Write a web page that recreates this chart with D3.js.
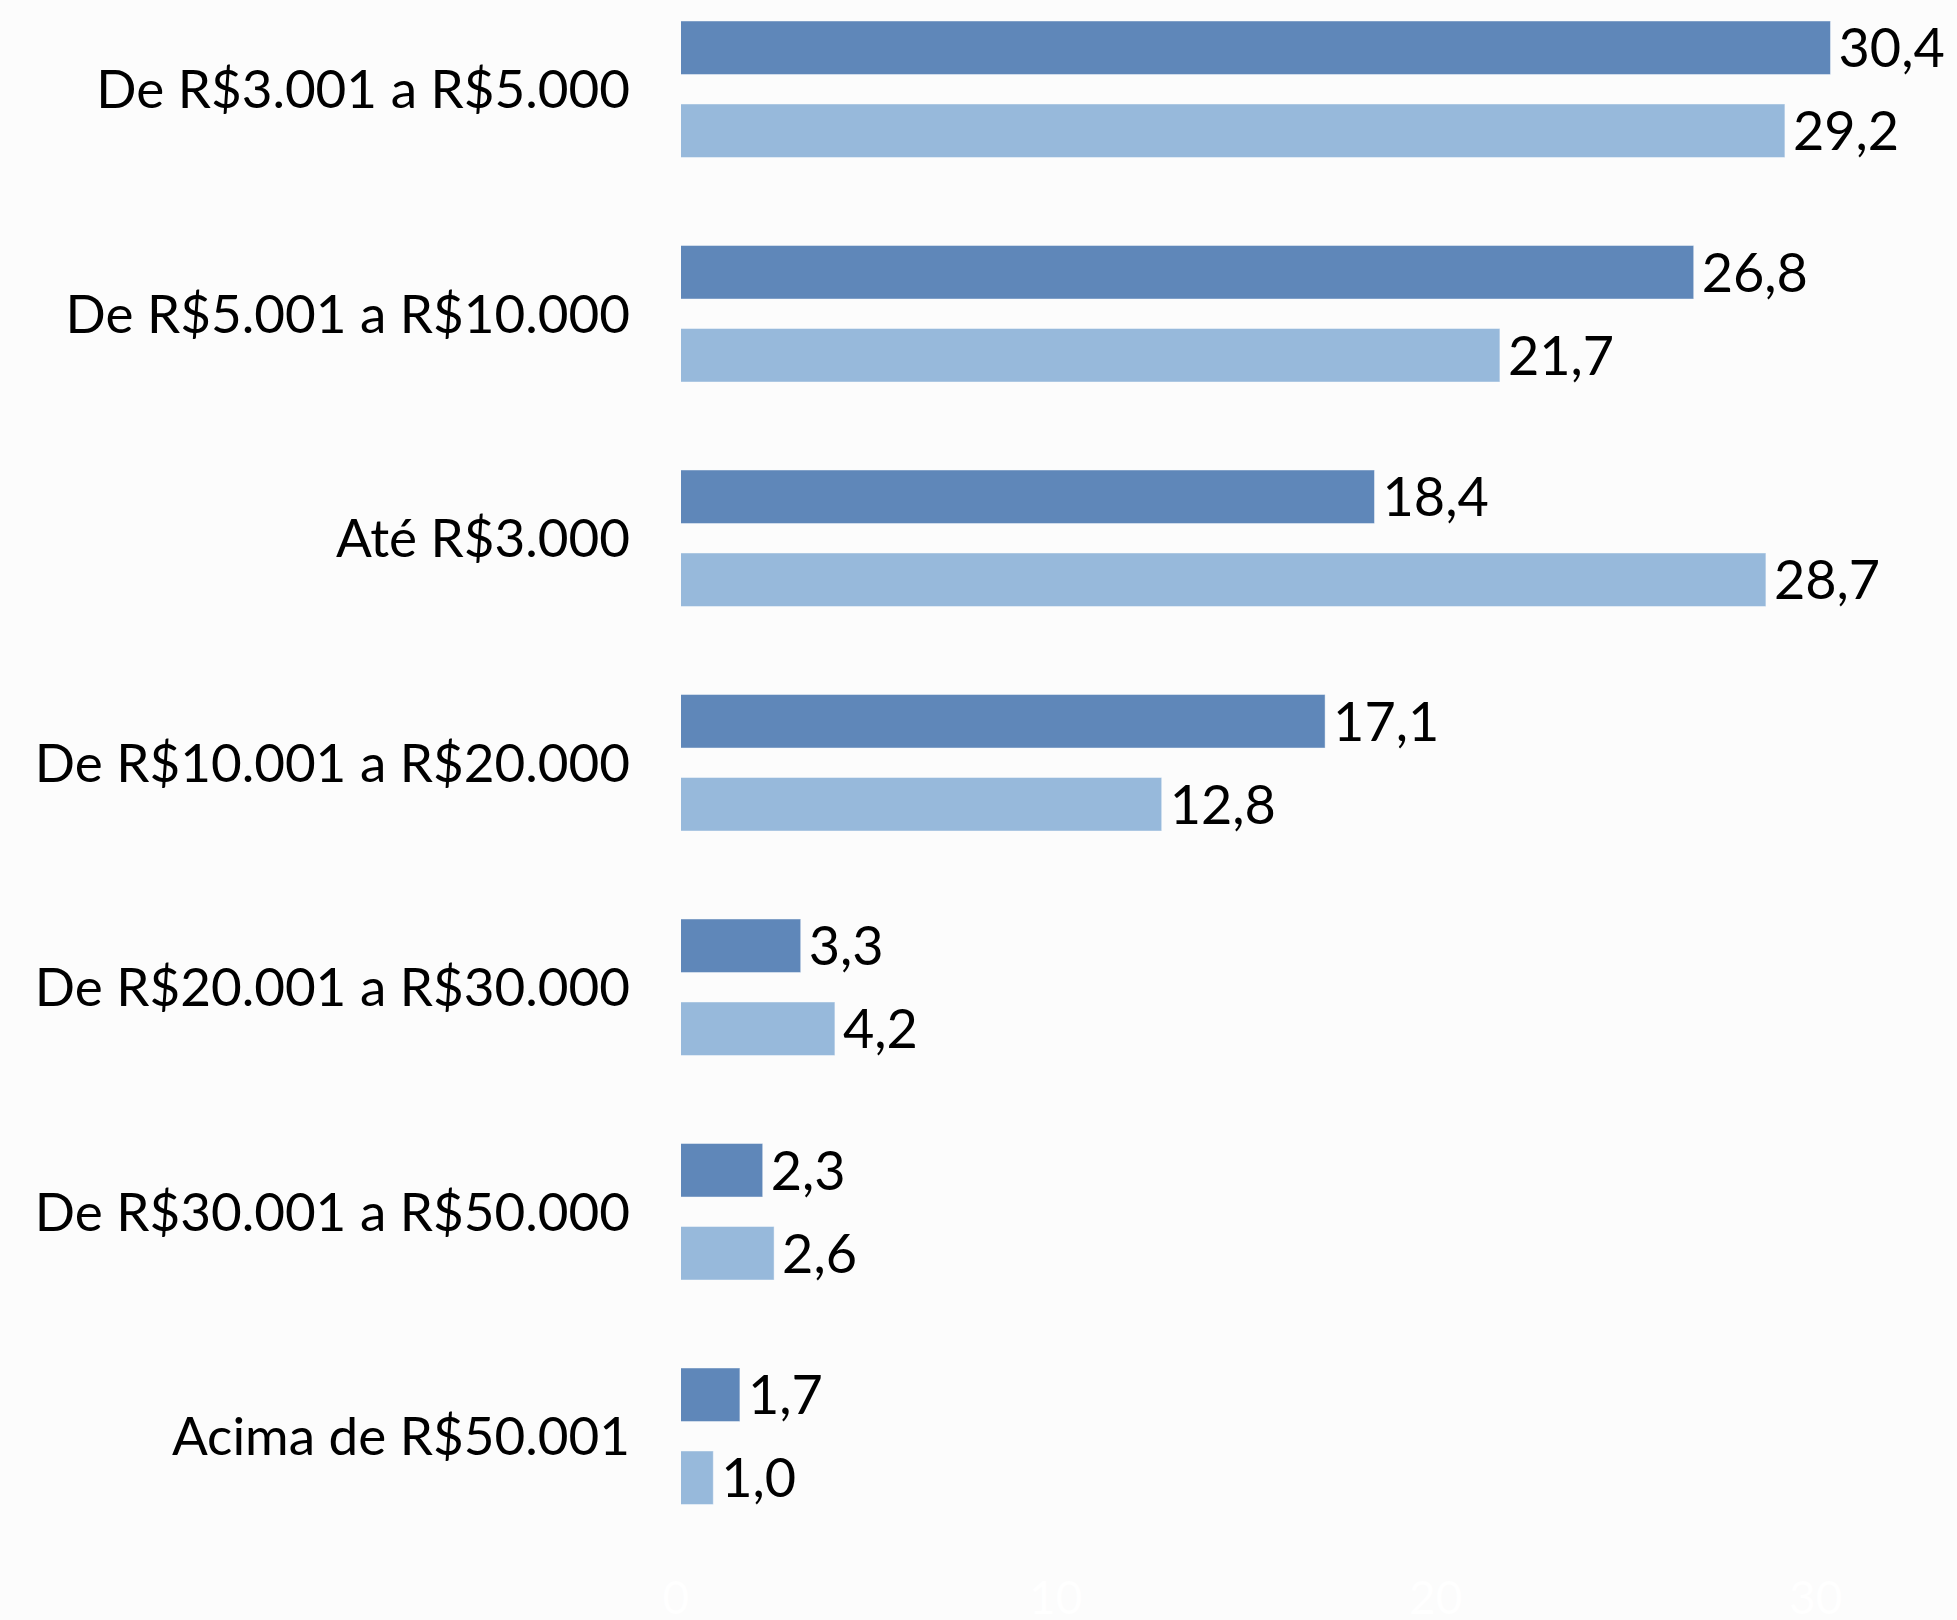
<!DOCTYPE html>
<html>
<head>
<meta charset="utf-8">
<script src="https://cdn.jsdelivr.net/npm/d3@7"></script>
<style>
  html, body { margin: 0; padding: 0; background: #FCFCFC; }
  svg { display: block; }
  text { font-family: Lato, "Noto Sans", sans-serif; }
</style>
</head>
<body>
<svg id="chart" width="1957" height="1620"></svg>
<script>
const categories = [
  "De R$3.001 a R$5.000",
  "De R$5.001 a R$10.000",
  "Até R$3.000",
  "De R$10.001 a R$20.000",
  "De R$20.001 a R$30.000",
  "De R$30.001 a R$50.000",
  "Acima de R$50.001"
];
const seriesNames = ["s1", "s2"];
const series1 = [30.4, 26.8, 18.4, 17.1, 3.3, 2.3, 1.7];
const series2 = [29.2, 21.7, 28.7, 12.8, 4.2, 2.6, 1.0];
const tickValues = [0, 10, 20, 30];

const colors = { s1: "#5F87B9", s2: "#97B9DB" };

const svg = d3.select("#chart");
svg.append("rect").attr("width", 1957).attr("height", 1620).attr("fill", "#FCFCFC");

const x = d3.scaleLinear().domain([0, 33]).range([675.3, 675.3 + 33 * 38.0]);
const y = d3.scaleBand().domain(categories).range([-23, 1548.5]).paddingInner(0).paddingOuter(0);
const yInner = d3.scaleBand().domain(seriesNames).range([0, y.bandwidth()])
  .paddingInner(0.355).paddingOuter(0.53);

const plotLeft = 681;
svg.append("defs").append("clipPath").attr("id", "plotClip")
  .append("rect").attr("x", plotLeft).attr("y", 0).attr("width", 1957 - plotLeft).attr("height", 1620);

const fmt = v => v.toFixed(1).replace(".", ",");

const data = categories.map((c, i) => ({
  cat: c,
  vals: [{ key: "s1", v: series1[i] }, { key: "s2", v: series2[i] }]
}));

const barLayer = svg.append("g").attr("clip-path", "url(#plotClip)");
const groups = barLayer.selectAll("g.grp").data(data).join("g")
  .attr("class", "grp")
  .attr("transform", d => `translate(0,${y(d.cat)})`);

groups.selectAll("rect").data(d => d.vals).join("rect")
  .attr("x", x(0))
  .attr("y", d => yInner(d.key))
  .attr("width", d => x(d.v) - x(0))
  .attr("height", yInner.bandwidth())
  .attr("fill", d => colors[d.key])
  .attr("stroke", "#ffffff")
  .attr("stroke-opacity", 0.45)
  .attr("stroke-width", 1);

const labelLayer = svg.append("g");
const lgroups = labelLayer.selectAll("g.lgrp").data(data).join("g")
  .attr("class", "lgrp")
  .attr("transform", d => `translate(0,${y(d.cat)})`);

lgroups.selectAll("text.val").data(d => d.vals).join("text")
  .attr("class", "val")
  .attr("x", d => x(d.v) + 8)
  .attr("y", d => yInner(d.key) + yInner.bandwidth() / 2)
  .attr("dy", "0.36em")
  .attr("font-size", 54)
  .attr("font-family", "'Liberation Sans', Arial, sans-serif")
  .attr("fill", "#000")
  .text(d => fmt(d.v));

// category axis labels
const yAxis = d3.axisLeft(y).tickSize(0).tickPadding(0);
const gy = svg.append("g").attr("transform", "translate(630,0)").call(yAxis);
gy.select(".domain").remove();
gy.selectAll("text")
  .attr("font-size", 53)
  .attr("fill", "#000")
  .attr("font-family", "Lato, 'Noto Sans', sans-serif")
  .attr("dy", "0.36em");

// x axis (white labels, practically invisible)
const xAxis = d3.axisBottom(x).tickValues(tickValues).tickSize(0).tickPadding(0).tickFormat(d3.format("d"));
const gx = svg.append("g").attr("transform", "translate(0,1597)").call(xAxis);
gx.select(".domain").remove();
gx.selectAll("text")
  .attr("font-size", 46)
  .attr("fill", "#FFFFFF")
  .attr("font-family", "'Liberation Sans', Arial, sans-serif")
  .attr("y", 0)
  .attr("dy", "0.36em");
</script>
</body>
</html>
